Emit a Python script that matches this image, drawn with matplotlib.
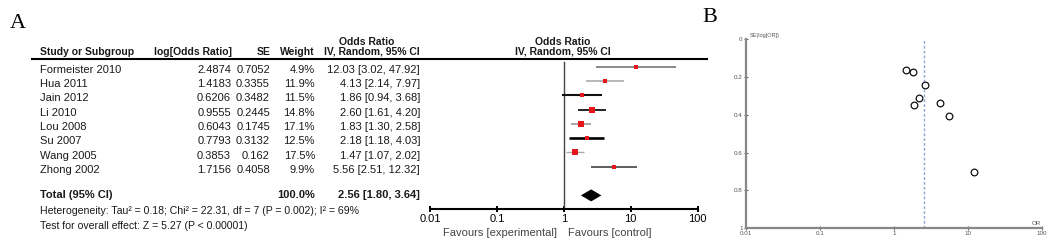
import numpy as np
import matplotlib
matplotlib.use("Agg")
import matplotlib.pyplot as plt
from matplotlib.lines import Line2D

# ------------------------------------------------------------
# data
# ------------------------------------------------------------
studies = ["Formeister 2010", "Hua 2011", "Jain 2012", "Li 2010",
           "Lou 2008", "Su 2007", "Wang 2005", "Zhong 2002"]
log_or = ["2.4874", "1.4183", "0.6206", "0.9555", "0.6043", "0.7793", "0.3853", "1.7156"]
se = [0.7052, 0.3355, 0.3482, 0.2445, 0.1745, 0.3132, 0.162, 0.4058]
se_txt = ["0.7052", "0.3355", "0.3482", "0.2445", "0.1745", "0.3132", "0.162", "0.4058"]
weight = [4.9, 11.9, 11.5, 14.8, 17.1, 12.5, 17.5, 9.9]
odds = [12.03, 4.13, 1.86, 2.60, 1.83, 2.18, 1.47, 5.56]
ci_lo = [3.02, 2.14, 0.94, 1.61, 1.30, 1.18, 1.07, 2.51]
ci_hi = [47.92, 7.97, 3.68, 4.20, 2.58, 4.03, 2.02, 12.32]
total_or, total_lo, total_hi = 2.56, 1.80, 3.64
or_ticks = [0.01, 0.1, 1, 10, 100]
or_tick_labels = ["0.01", "0.1", "1", "10", "100"]
se_ticks = [0, 0.2, 0.4, 0.6, 0.8, 1]
se_tick_labels = ["0", "0.2", "0.4", "0.6", "0.8", "1"]

W, H = 1052, 247
plt.rcParams['font.family'] = ['Liberation Sans', 'DejaVu Sans']

fig = plt.figure(figsize=(W / 100, H / 100), dpi=100)


def fx(x):
    return x / W


def fy(y):
    return 1 - y / H


def row_y(i):
    # text centre of row i in pixels
    return 69.8 + 14.3 * i


FS = 8.0     # table rows
HFS = 7.5    # bold headers
TC = '#1a1a1a'

# panel letters
fig.text(fx(10), fy(23), "A", fontsize=16, family='Liberation Serif', va='center')
fig.text(fx(702), fy(17), "B", fontsize=16, family='Liberation Serif', va='center')

# ------------------------------------------------------------
# table
# ------------------------------------------------------------
fig.text(fx(367), fy(42), "Odds Ratio", fontsize=HFS, weight='bold', ha='center', va='center', color=TC)
fig.text(fx(563), fy(42), "Odds Ratio", fontsize=HFS, weight='bold', ha='center', va='center', color=TC)
hy = fy(52)
fig.text(fx(40), hy, "Study or Subgroup", fontsize=HFS, weight='bold', va='center', color=TC)
fig.text(fx(232), hy, "log[Odds Ratio]", fontsize=HFS, weight='bold', ha='right', va='center', color=TC)
fig.text(fx(271), hy, "SE", fontsize=HFS, weight='bold', ha='right', va='center', color=TC)
fig.text(fx(315), hy, "Weight", fontsize=HFS, weight='bold', ha='right', va='center', color=TC)
fig.text(fx(420), hy, "IV, Random, 95% CI", fontsize=HFS, weight='bold', ha='right', va='center', color=TC)
fig.text(fx(563), hy, "IV, Random, 95% CI", fontsize=HFS, weight='bold', ha='center', va='center', color=TC)
fig.add_artist(Line2D([fx(32), fx(707)], [fy(59.5), fy(59.5)], color='black', lw=1.5))

for i, name in enumerate(studies):
    y = fy(row_y(i))
    fig.text(fx(40), y, name, fontsize=FS, va='center', color=TC)
    fig.text(fx(231), y, log_or[i], fontsize=FS, ha='right', va='center', color=TC)
    fig.text(fx(270), y, se_txt[i], fontsize=FS, ha='right', va='center', color=TC)
    fig.text(fx(315), y, f"{weight[i]:.1f}%", fontsize=FS, ha='right', va='center', color=TC)
    fig.text(fx(420), y, f"{odds[i]:.2f} [{ci_lo[i]:.2f}, {ci_hi[i]:.2f}]",
             fontsize=FS, ha='right', va='center', color=TC)

ty = fy(194.5)
fig.text(fx(40), ty, "Total (95% CI)", fontsize=FS, weight='bold', va='center', color=TC)
fig.text(fx(315), ty, "100.0%", fontsize=FS, weight='bold', ha='right', va='center', color=TC)
fig.text(fx(420), ty, f"{total_or:.2f} [{total_lo:.2f}, {total_hi:.2f}]",
         fontsize=FS, weight='bold', ha='right', va='center', color=TC)
fig.text(fx(40), fy(211), "Heterogeneity: Tau² = 0.18; Chi² = 22.31, df = 7 (P = 0.002); I² = 69%",
         fontsize=7.6, va='center', color=TC)
fig.text(fx(40), fy(226), "Test for overall effect: Z = 5.27 (P < 0.00001)",
         fontsize=7.6, va='center', color=TC)

# ------------------------------------------------------------
# forest plot
# ------------------------------------------------------------
top_px, bot_px = 59.5, 209.3
ax = fig.add_axes([fx(430), fy(bot_px), (697.7 - 430) / W, (bot_px - top_px) / H])
ax.set_xscale('log')
ax.set_xlim(0.01, 100)
mark0, step = 66.7, 14.3
ax.set_ylim((bot_px - mark0) / step, (top_px - mark0) / step)
for s in ['top', 'left', 'right']:
    ax.spines[s].set_visible(False)
ax.spines['bottom'].set_linewidth(1.5)
ax.set_yticks([])
ax.set_xticks(or_ticks)
ax.set_xticklabels(or_tick_labels)
ax.minorticks_off()
ax.tick_params(axis='x', direction='inout', length=5, width=1.4, labelsize=FS, pad=1)
ax.axvline(1, ymax=0.98, color='#444444', lw=1)

line_cols = ['#777777', '#aaaaaa', '#111111', '#222222', '#999999', '#000000', '#aaaaaa', '#333333']
line_w = [1.2, 1.2, 1.5, 1.4, 1.2, 1.9, 1.0, 1.1]
for i in range(len(studies)):
    ax.plot([ci_lo[i], ci_hi[i]], [i, i], color=line_cols[i], lw=line_w[i], solid_capstyle='butt')
    ms = 1.4 * np.sqrt(weight[i]) / 1.389
    ax.plot(odds[i], i, 's', color='#e8161b', ms=ms, mew=0)

ax.fill([total_lo, total_or, total_hi, total_or], [9, 9 - 0.42, 9, 9 + 0.42],
        color='black', lw=0)

fig.text(fx(557), fy(233), "Favours [experimental]", fontsize=FS, ha='right', va='center', color='#444444')
fig.text(fx(568), fy(233), "Favours [control]", fontsize=FS, ha='left', va='center', color='#444444')

# ------------------------------------------------------------
# funnel plot
# ------------------------------------------------------------
bx = fig.add_axes([fx(746), fy(228), (1042 - 746) / W, (228 - 39.3) / H])
bx.set_xscale('log')
bx.set_xlim(0.01, 100)
bx.set_ylim(1, 0)
for s in ['top', 'right']:
    bx.spines[s].set_visible(False)
for s in ['left', 'bottom']:
    bx.spines[s].set_color('#888888')
    bx.spines[s].set_linewidth(1.6)
bx.set_xticks(or_ticks)
bx.set_xticklabels(or_tick_labels)
bx.set_yticks(se_ticks)
bx.set_yticklabels(se_tick_labels)
bx.minorticks_off()
bx.tick_params(axis='both', direction='inout', length=3, width=0.8, color='#666666',
               labelsize=4.5, labelcolor='#555555', pad=1)
bx.axvline(total_or, color='#8aa6d6', lw=1, linestyle=(0, (2, 1.5)))
bx.plot(odds, se, 'o', mfc='white', mec='#111111', ms=4.8, mew=0.9, clip_on=False)

fig.text(fx(750), fy(35), "SE(log[OR])", fontsize=4, color='#555555', va='center')
fig.text(fx(1032), fy(223), "OR", fontsize=4.5, color='#555555', va='center')

fig.savefig("out.png", dpi=100)
